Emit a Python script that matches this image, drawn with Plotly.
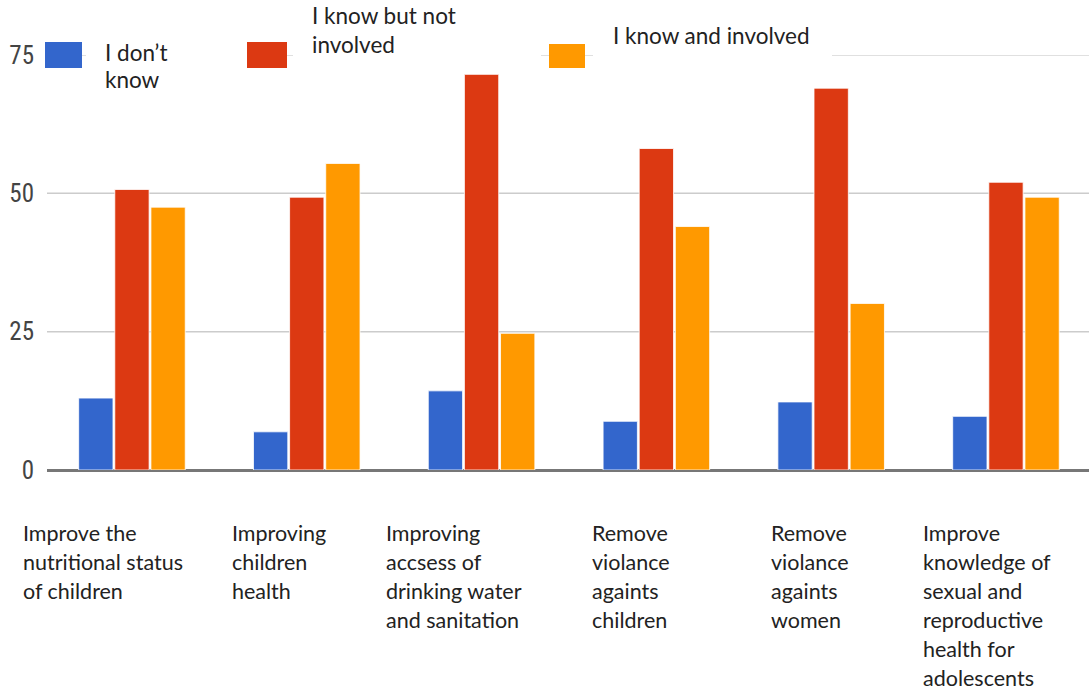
import plotly.graph_objects as go

categories = [
    "Improve the nutritional status of children",
    "Improving children health",
    "Improving accsess of drinking water and sanitation",
    "Remove violance againts children",
    "Remove violance againts women",
    "Improve knowledge of sexual and reproductive health for adolescents",
]
category_lines = [
    ["Improve the", "nutritional status", "of children"],
    ["Improving", "children", "health"],
    ["Improving", "accsess of", "drinking water", "and sanitation"],
    ["Remove", "violance", "againts", "children"],
    ["Remove", "violance", "againts", "women"],
    ["Improve", "knowledge of", "sexual and", "reproductive", "health for", "adolescents"],
]
series_names = ["I don\u2019t know", "I know but not involved", "I know and involved"]
dont_know = [13.0, 6.9, 14.3, 8.8, 12.3, 9.7]
know_not_involved = [50.7, 49.3, 71.5, 58.1, 69.0, 52.0]
know_involved = [47.5, 55.4, 24.7, 44.0, 30.1, 49.3]
y_ticks = [0, 25, 50, 75]

colors = ["#3366cc", "#dc3912", "#ff9900"]

W, H = 1089, 690
ML, MR, MT, MB = 47, 0, 55, 220
PW = W - ML - MR
PH = H - MT - MB


def px_x(px):
    return (px - ML) / PW


def px_y(py):
    return (H - MB - py) / PH


fig = go.Figure()
x_idx = list(range(len(categories)))
for name, vals, col in zip(series_names, [dont_know, know_not_involved, know_involved], colors):
    fig.add_trace(go.Bar(
        x=x_idx, y=vals, name=name,
        marker=dict(color=col, line=dict(color="white", width=0.8)),
        showlegend=False, hoverinfo="y",
    ))

shapes = []
# gridlines
for v in [25, 50]:
    shapes.append(dict(type="line", xref="paper", yref="y", x0=0, x1=1, y0=v, y1=v,
                       line=dict(color="#cccccc", width=1.5), layer="below"))
for a, b in [(82, 86), (287, 293), (541, 593), (832, 1089)]:
    shapes.append(dict(type="line", xref="paper", yref="y", x0=px_x(a), x1=px_x(b), y0=75, y1=75,
                       line=dict(color="#d6d6d6", width=1.5), layer="below"))

# legend markers
legend_boxes = [(45, 82, 42, 68), (247, 287, 42, 68), (549, 585, 44, 68)]
for (x0, x1, y0, y1), col in zip(legend_boxes, colors):
    shapes.append(dict(type="rect", xref="paper", yref="paper",
                       x0=px_x(x0), x1=px_x(x1), y0=px_y(y1), y1=px_y(y0),
                       fillcolor=col, line=dict(width=0), layer="above"))

annotations = []
cat_font = dict(family="Lato, Open Sans, sans-serif", size=21.5, color="#222222")
leg_font = dict(family="Lato, Open Sans, sans-serif", size=22.5, color="#222222")
legend_text = [
    (103, [52, 79], ["I don\u2019t", "know"]),
    (310, [16, 45], ["I know but not", "involved"]),
    (611, [35], ["I know and involved"]),
]
for lx, ys, lines in legend_text:
    for ly, t in zip(ys, lines):
        annotations.append(dict(text=t, xref="paper", yref="paper", x=px_x(lx), y=px_y(ly),
                                xanchor="left", yanchor="middle", showarrow=False, font=leg_font))

label_x = [21, 230, 384, 590, 769, 921]
for lx, lines in zip(label_x, category_lines):
    for i, t in enumerate(lines):
        annotations.append(dict(text=t, xref="paper", yref="paper", x=px_x(lx), y=px_y(533 + 29 * i),
                                xanchor="left", yanchor="middle", showarrow=False, font=cat_font))

fig.update_layout(
    width=W, height=H,
    margin=dict(l=ML, r=MR, t=MT, b=MB, pad=0),
    paper_bgcolor="white", plot_bgcolor="white",
    barmode="group", bargap=0.38, bargroupgap=0.05,
    shapes=shapes, annotations=annotations,
    xaxis=dict(range=[-0.486, 5.475], showticklabels=False, showgrid=False, zeroline=False,
               showline=False, fixedrange=True),
    yaxis=dict(range=[0, 75], tickvals=y_ticks, showgrid=False, zeroline=True,
               zerolinecolor="#777777", zerolinewidth=2.5,
               tickfont=dict(family="Roboto Condensed, DejaVu Sans Condensed, Liberation Sans Narrow, sans-serif",
                             size=25, color="#444444"),
               ticklabelstandoff=12, showline=False, fixedrange=True),
)

fig.write_html("out.html", config={"displayModeBar": False})
